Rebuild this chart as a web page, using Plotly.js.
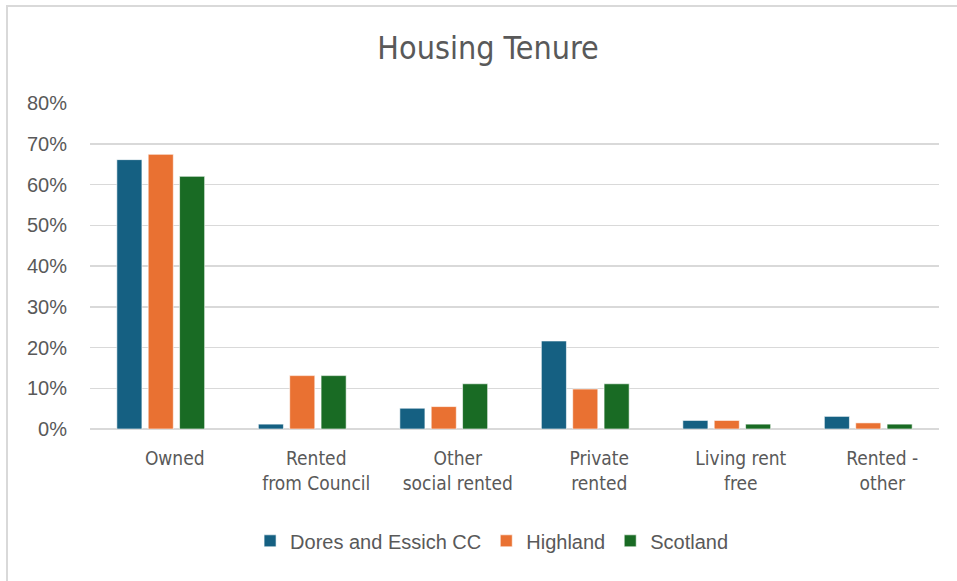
<!DOCTYPE html>
<html>
<head>
<meta charset="utf-8">
<script src="https://cdn.plot.ly/plotly-3.0.1.min.js"></script>
<style>
html,body{margin:0;padding:0;background:#fff;}
#chart{width:957px;height:581px;}
#frame{position:absolute;left:6px;top:5px;width:960px;height:574px;border:2px solid #d9d9d9;pointer-events:none;}
</style>
</head>
<body>
<div id="chart"></div>
<div id="frame"></div>
<script>
var categories = ["Owned", "Rented<br>from Council", "Other<br>social rented", "Private<br>rented", "Living rent<br>free", "Rented -<br>other"];
var seriesNames = ["Dores and Essich CC", "Highland", "Scotland"];
var dores = [0.661, 0.012, 0.051, 0.216, 0.021, 0.031];
var highland = [0.674, 0.131, 0.055, 0.098, 0.021, 0.015];
var scotland = [0.620, 0.131, 0.111, 0.111, 0.012, 0.012];
var colors = ["#156082", "#E97132", "#196B24"];
var yTicks = [0, 0.1, 0.2, 0.3, 0.4, 0.5, 0.6, 0.7, 0.8];

var values = [dores, highland, scotland];
var traces = values.map(function(v, i){
  return {
    type: "bar",
    name: seriesNames[i],
    x: categories,
    y: v,
    marker: {color: colors[i], line: {color: "rgba(255,255,255,0.6)", width: 1}},
    hoverinfo: "skip"
  };
});

var condensed = "DejaVu Sans Condensed, Liberation Sans Narrow, sans-serif";
var layout = {
  width: 957, height: 581,
  paper_bgcolor: "#fff", plot_bgcolor: "#fff",
  margin: {l: 90, r: 18, t: 103, b: 152},
  barmode: "group",
  bargap: 0.335,
  bargroupgap: 0.2,
  font: {family: "Liberation Sans, Arial, sans-serif", color: "#595959"},
  title: {text: "Housing Tenure", font: {size: 32, color: "#595959", family: condensed},
          xref: "container", x: 0.51, xanchor: "center", yref: "container", y: 1 - 48/581, yanchor: "middle"},
  xaxis: {
    type: "category",
    showgrid: false, zeroline: false, showline: false, ticks: "",
    tickfont: {size: 19, color: "#595959", family: condensed},
    ticklabelshift: 14,
    ticklabelstandoff: 16
  },
  yaxis: {
    range: [0, 0.8],
    tickvals: yTicks,
    tickformat: ".0%",
    showgrid: true, gridcolor: "#d9d9d9", gridwidth: 1.5,
    zeroline: true, zerolinecolor: "#d9d9d9", zerolinewidth: 1.5,
    showline: false, ticks: "",
    tickfont: {size: 20, color: "#595959"},
    ticklabelstandoff: 22
  },
  showlegend: true,
  legend: {
    orientation: "h",
    x: 0.473, xanchor: "center",
    y: -0.343, yanchor: "middle",
    font: {size: 20, color: "#595959", family: "Liberation Sans, Arial, sans-serif"},
    itemwidth: 30,
    traceorder: "normal"
  }
};

Plotly.newPlot("chart", traces, layout, {displayModeBar: false, staticPlot: true});
</script>
</body>
</html>
